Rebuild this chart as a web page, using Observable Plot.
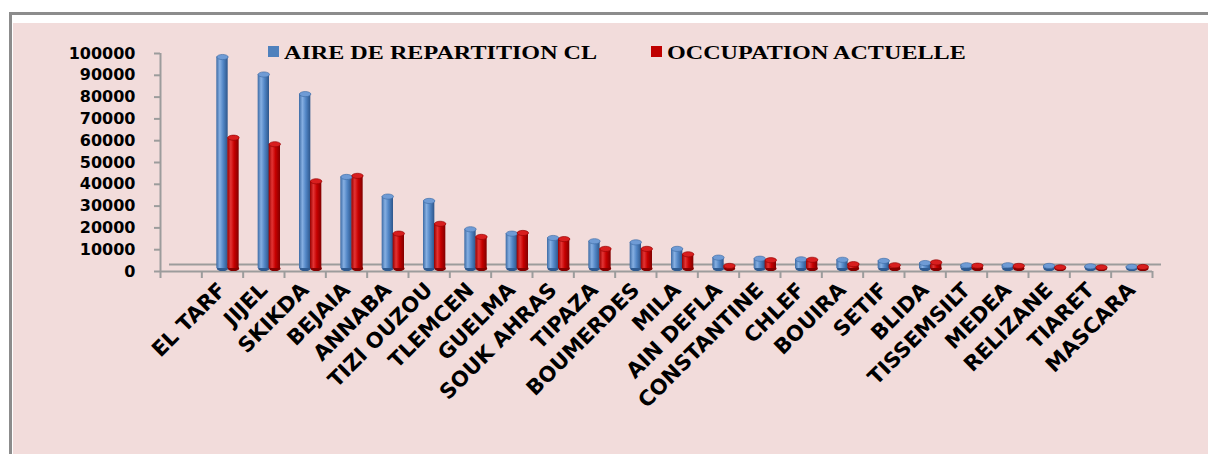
<!DOCTYPE html>
<html>
<head>
<meta charset="utf-8">
<script src="https://cdn.jsdelivr.net/npm/d3@7"></script>
<script src="https://cdn.jsdelivr.net/npm/@observablehq/plot@0.6"></script>
<style>
  html, body { margin: 0; padding: 0; background: #ffffff; width: 1208px; height: 454px; overflow: hidden; position: relative; }
  #frame { position: absolute; left: 9px; top: 12px; width: 1199px; height: 442px; border-left: 3px solid #8c8c8c; border-top: 3px solid #8c8c8c; background: #ffffff; box-sizing: border-box; overflow: hidden; }
  #pink { position: absolute; left: 1px; top: 8px; right: 0; bottom: 0; background: #f2dcdb; }
  #chart { position: absolute; left: 0; top: 0; width: 1208px; height: 454px; overflow: hidden; }
  .lg-sq { position: absolute; width: 11px; height: 11px; }
  .lg-tx { position: absolute; font-family: "Liberation Serif", "Times New Roman", serif; font-weight: bold; font-size: 19px; line-height: 1; color: #000; white-space: nowrap; transform: scaleX(1.27); transform-origin: left center; }
</style>
</head>
<body>
<div id="frame"><div id="pink"></div></div>
<div id="chart"></div>
<div class="lg-sq" style="left:268px;top:46px;background:#4f81bd"></div>
<div class="lg-tx" style="left:284px;top:43px">AIRE DE REPARTITION CL</div>
<div class="lg-sq" style="left:651px;top:46px;background:#c00000"></div>
<div class="lg-tx" style="left:667px;top:43px">OCCUPATION ACTUELLE</div>
<script>
// ---- data ----
const categories = ["EL TARF", "JIJEL", "SKIKDA", "BEJAIA", "ANNABA", "TIZI OUZOU", "TLEMCEN", "GUELMA",
  "SOUK AHRAS", "TIPAZA", "BOUMERDES", "MILA", "AIN DEFLA", "CONSTANTINE", "CHLEF", "BOUIRA",
  "SETIF", "BLIDA", "TISSEMSILT", "MEDEA", "RELIZANE", "TIARET", "MASCARA"];
const aireRepartition = [97000, 89000, 80000, 42000, 33000, 31000, 18000, 16000, 14000, 12500, 12000, 9000,
  5000, 4500, 4200, 4000, 3500, 2500, 1500, 1500, 1200, 1000, 800];
const occupationActuelle = [60000, 57000, 40000, 42500, 16000, 20500, 14500, 16300, 13500, 9000, 9000, 6500,
  1200, 3800, 4000, 2000, 1500, 2800, 1300, 1200, 500, 500, 700];
const yTicks = [0, 10000, 20000, 30000, 40000, 50000, 60000, 70000, 80000, 90000, 100000];

// one empty slot precedes the first category, as in the reference
const rows = categories.map((c, k) => ({cat: c, i: k + 1, aire: aireRepartition[k], occ: occupationActuelle[k]}));
const slotCount = categories.length + 1;
const slotEdges = d3.range(0, slotCount + 1);
const slotCenters = rows.map(d => d.i + 0.5);

const capSymbol = {
  draw(context) {
    const rx = 5.7, ry = 2.6, k = 0.5523;
    context.moveTo(rx, 0);
    context.bezierCurveTo(rx, ry * k, rx * k, ry, 0, ry);
    context.bezierCurveTo(-rx * k, ry, -rx, ry * k, -rx, 0);
    context.bezierCurveTo(-rx, -ry * k, -rx * k, -ry, 0, -ry);
    context.bezierCurveTo(rx * k, -ry, rx, -ry * k, rx, 0);
    context.closePath();
  }
};

const sans = "DejaVu Sans, Verdana, sans-serif";
const grid = "#9c9c9c";
const blueFill = "url(#gBlue)";
const redFill = "url(#gRed)";

const chart = Plot.plot({
  width: 1208,
  height: 454,
  marginLeft: 160,
  marginRight: 56,
  marginTop: 53,
  marginBottom: 183,
  x: {domain: [0, slotCount], axis: null, label: null},
  y: {domain: [0, 100000], axis: null, label: null},
  style: {background: "transparent", color: "#000"},
  marks: [
    // floor (back edge and front edge)
    Plot.ruleY([0], {stroke: grid, strokeWidth: 2, dx: 9, dy: -7}),
    Plot.ruleY([0], {stroke: grid, strokeWidth: 2}),
    Plot.ruleX([0], {stroke: grid, strokeWidth: 2}),
    // axes
    Plot.axisY({ticks: yTicks, tickSize: 6, tickPadding: 19, tickFormat: d => String(d), label: null,
      stroke: grid, strokeWidth: 2, fontSize: 16, fontWeight: "bold", fontFamily: sans, fill: "#000"}),
    Plot.axisX({ticks: slotEdges, tickSize: 7, tickFormat: () => "", label: null, stroke: grid, strokeWidth: 2}),
    Plot.axisX({ticks: slotCenters, tickFormat: t => categories[Math.floor(t) - 1], label: null,
      tickSize: 0, tickPadding: 15, tickRotate: -45, fontSize: 21, fontWeight: "bold", fontFamily: sans, fill: "#000"}),
    // bottom rounding of the cylinders
    Plot.dot(rows, {x: d => d.i + 0.5, y: 0, dy: -3, dx: 0, symbol: capSymbol, fill: "#2f5a90"}),
    Plot.dot(rows, {x: d => d.i + 0.5, y: 0, dy: -3, dx: 11, symbol: capSymbol, fill: "#860000"}),
    // cylinders
    Plot.rectY(rows, {x1: "i", x2: d => d.i + 1, y: "aire", insetLeft: 15, insetRight: 15, dy: -3, fill: blueFill}),
    Plot.rectY(rows, {x1: "i", x2: d => d.i + 1, y: "occ", insetLeft: 26, insetRight: 4, dy: -3, fill: redFill}),
    // top caps
    Plot.dot(rows, {x: d => d.i + 0.5, y: "aire", dy: -3, dx: 0, symbol: capSymbol, fill: "#6f9bd5", stroke: "#3d6aa3", strokeWidth: 0.6}),
    Plot.dot(rows, {x: d => d.i + 0.5, y: "occ", dy: -3, dx: 11, symbol: capSymbol, fill: "#d81e1e", stroke: "#8e0000", strokeWidth: 0.6})
  ]
});

// drop Plot's development warning glyph, if any
chart.querySelectorAll("text").forEach(t => { if (/\u26a0/.test(t.textContent)) t.remove(); });

const defs = document.createElementNS("http://www.w3.org/2000/svg", "defs");
defs.innerHTML = `
  <linearGradient id="gBlue" x1="0" x2="1" y1="0" y2="0">
    <stop offset="0" stop-color="#3c6aa4"/>
    <stop offset="0.3" stop-color="#86afe2"/>
    <stop offset="0.6" stop-color="#5286c6"/>
    <stop offset="1" stop-color="#2d568b"/>
  </linearGradient>
  <linearGradient id="gRed" x1="0" x2="1" y1="0" y2="0">
    <stop offset="0" stop-color="#960000"/>
    <stop offset="0.3" stop-color="#e23434"/>
    <stop offset="0.6" stop-color="#c60000"/>
    <stop offset="1" stop-color="#820000"/>
  </linearGradient>`;
chart.insertBefore(defs, chart.firstChild);
document.getElementById("chart").appendChild(chart);
</script>
</body>
</html>
